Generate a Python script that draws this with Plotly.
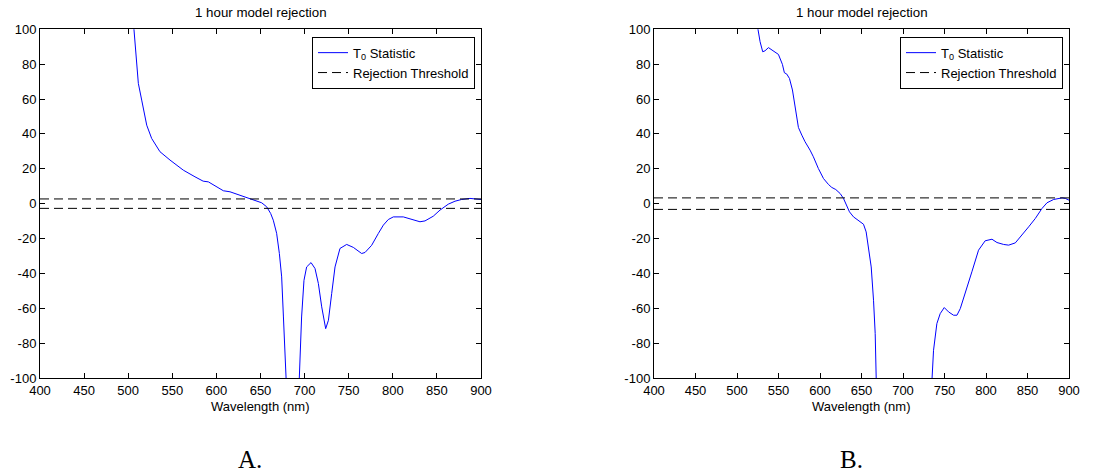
import plotly.graph_objects as go

W, H = 1115, 473

# ---------------- data ----------------
wavelength_A = [503, 506.6, 511.5, 515.3, 519, 521, 526.6, 536, 547.4, 553, 562.5, 575.7, 585, 590.9,
                600.3, 607.9, 615.4, 626.8, 638, 651.3, 657, 661.5, 664.5, 668.3, 671.4, 674, 676,
                678.5, 682, 686, 690, 694, 696.6, 699.3, 702.3, 707.3, 711.8, 715.6, 719.4, 723.9,
                727, 730.7, 734.5, 740.1, 747.7, 755.3, 764.7, 768.5, 776, 783.6, 789.3, 794.9,
                800.6, 811.9, 819.5, 830.8, 836.5, 845.9, 853.5, 862.9, 870.5, 878, 887.5, 895, 900]
t0_A = [122, 100, 69, 59.4, 49.9, 45, 37.4, 29.8, 25, 23, 19.2, 15.4, 12.9, 12.5,
        9.7, 7.4, 6.8, 4.9, 3, 0.5, -1.8, -5.6, -9.5, -17, -28.6, -42, -65,
        -100, -135, -150, -135, -100, -65, -44, -36.3, -33.8, -37.2, -45.8, -59.2, -71.7,
        -66.9, -51.6, -36.3, -25.7, -23.4, -25.1, -28.6, -28, -23.9, -17.1, -12.3, -9.1,
        -7.6, -7.6, -8.9, -10.4, -9.9, -7.2, -3.7, -0.3, 1.4, 2.4, 3, 2.6, 2.4]
threshold_A = 2.7

wavelength_B = [521, 525, 527.8, 531, 533.8, 537.9, 543.9, 549.9, 554.7, 557.1, 560, 563.2, 566.8,
                570, 574, 578.1, 582, 588, 592, 598, 604.2, 610.2, 614.2, 619, 624.3, 628.3,
                632.3, 635.5, 640.4, 646.4, 652.4, 655.6, 658.5, 661.7, 664.5, 666.5, 667.7,
                672, 690, 710, 725, 732, 734.8, 736.8, 740.8, 744.8, 749.7, 754.9, 760.9, 765,
                769, 775, 783, 791, 799, 807.2, 813.2, 821.2, 827.3, 835.3, 843.3, 851.4, 859.4,
                867.4, 873.5, 881.5, 891.6, 895.6, 900]
t0_B = [112, 100, 92.9, 87.1, 87.7, 89.5, 87.7, 85.6, 79.9, 75.1, 74.3, 71.8, 65.2,
        55.6, 43.7, 39.3, 35.5, 30.7, 26.9, 20.2, 14.4, 11, 9.3, 8.1, 5.8, 3,
        -0.9, -4.7, -7.6, -9.5, -11.8, -16.2, -24.8, -36.3, -55.4, -74.5, -100,
        -160, -220, -230, -190, -130, -100, -84.1, -68.8, -63.1, -59.6, -62.1, -64, -64,
        -60.2, -51.6, -39.1, -26.7, -21.3, -20.4, -22.3, -23.4, -23.8, -22.5, -18.1, -13.3, -8.5,
        -2.8, 0.5, 2.4, 3.3, 3, 2]
threshold_B = 3.3

x_ticks = [400, 450, 500, 550, 600, 650, 700, 750, 800, 850, 900]
y_ticks = [-100, -80, -60, -40, -20, 0, 20, 40, 60, 80, 100]
y_ticklabels = [str(v) for v in y_ticks]
x_range = [400, 900]
y_range = [-100, 100]

title_text = "1 hour model rejection"
xlabel_text = "Wavelength (nm)"
panel_labels = ["A.", "B."]

# ---------------- layout helpers ----------------
def px_x(p):
    return p / W

def px_y(p):
    return 1 - p / H

panels = [
    dict(xd=[px_x(40), px_x(481)], ax="x", ay="y", leg="legend", legx=px_x(475),
         wl=wavelength_A, t0=t0_A, thr=threshold_A, label=panel_labels[0], lx=250),
    dict(xd=[px_x(654), px_x(1069)], ax="x2", ay="y2", leg="legend2", legx=px_x(1063),
         wl=wavelength_B, t0=t0_B, thr=threshold_B, label=panel_labels[1], lx=851),
]
ydom = [px_y(378), px_y(29.3)]

FONT = "Liberation Sans, Arial, sans-serif"
fig = go.Figure()

annotations = []
for i, p in enumerate(panels):
    fig.add_trace(go.Scatter(x=p["wl"], y=p["t0"], mode="lines",
                             line=dict(color="#0000ff", width=1),
                             name="T<sub>0</sub> Statistic",
                             xaxis=p["ax"], yaxis=p["ay"], legend=p["leg"]))
    for k, sign in enumerate([1, -1]):
        fig.add_trace(go.Scatter(x=x_range, y=[sign * p["thr"]] * 2, mode="lines",
                                 line=dict(color="black", width=1, dash="9px,5px"),
                                 name="Rejection Threshold", showlegend=(k == 0),
                                 legendgroup="thr%d" % i,
                                 xaxis=p["ax"], yaxis=p["ay"], legend=p["leg"]))
    cx = (p["xd"][0] + p["xd"][1]) / 2
    annotations.append(dict(text=title_text, x=cx, y=px_y(13), xref="paper", yref="paper",
                            showarrow=False, xanchor="center", yanchor="middle",
                            font=dict(family=FONT, size=13.3, color="black")))
    annotations.append(dict(text=xlabel_text, x=cx, y=px_y(406), xref="paper", yref="paper",
                            showarrow=False, xanchor="center", yanchor="middle",
                            font=dict(family=FONT, size=13, color="black")))
    annotations.append(dict(text=p["label"], x=px_x(p["lx"]),
                            y=px_y(459), xref="paper", yref="paper",
                            showarrow=False, xanchor="center", yanchor="middle",
                            font=dict(family="Liberation Serif, Times New Roman, serif",
                                      size=25, color="black")))

axis_common = dict(showline=True, linecolor="black", linewidth=1, mirror="ticks",
                   ticks="inside", ticklen=5, tickwidth=1, tickcolor="black",
                   showgrid=False, zeroline=False, automargin=False,
                   tickfont=dict(family=FONT, size=13, color="black"))

legend_common = dict(bgcolor="white", bordercolor="black", borderwidth=1,
                     font=dict(family=FONT, size=13, color="black"),
                     xanchor="right", yanchor="top", y=px_y(36.7),
                     tracegroupgap=0, itemclick=False)

fig.update_layout(
    width=W, height=H, template="none",
    margin=dict(l=0, r=0, t=0, b=0, autoexpand=False),
    paper_bgcolor="white", plot_bgcolor="white",
    showlegend=True,
    xaxis=dict(domain=panels[0]["xd"], range=x_range, tickvals=x_ticks, anchor="y", **axis_common),
    yaxis=dict(domain=ydom, range=y_range, tickvals=y_ticks, ticktext=y_ticklabels, anchor="x", **axis_common),
    xaxis2=dict(domain=panels[1]["xd"], range=x_range, tickvals=x_ticks, anchor="y2", **axis_common),
    yaxis2=dict(domain=ydom, range=y_range, tickvals=y_ticks, ticktext=y_ticklabels, anchor="x2", **axis_common),
    legend=dict(x=panels[0]["legx"], **legend_common),
    legend2=dict(x=panels[1]["legx"], **legend_common),
    annotations=annotations,
)

fig.write_html("out.html", config={"displayModeBar": False},
               post_script="document.body.style.margin='0px';document.body.style.overflow='hidden';")
